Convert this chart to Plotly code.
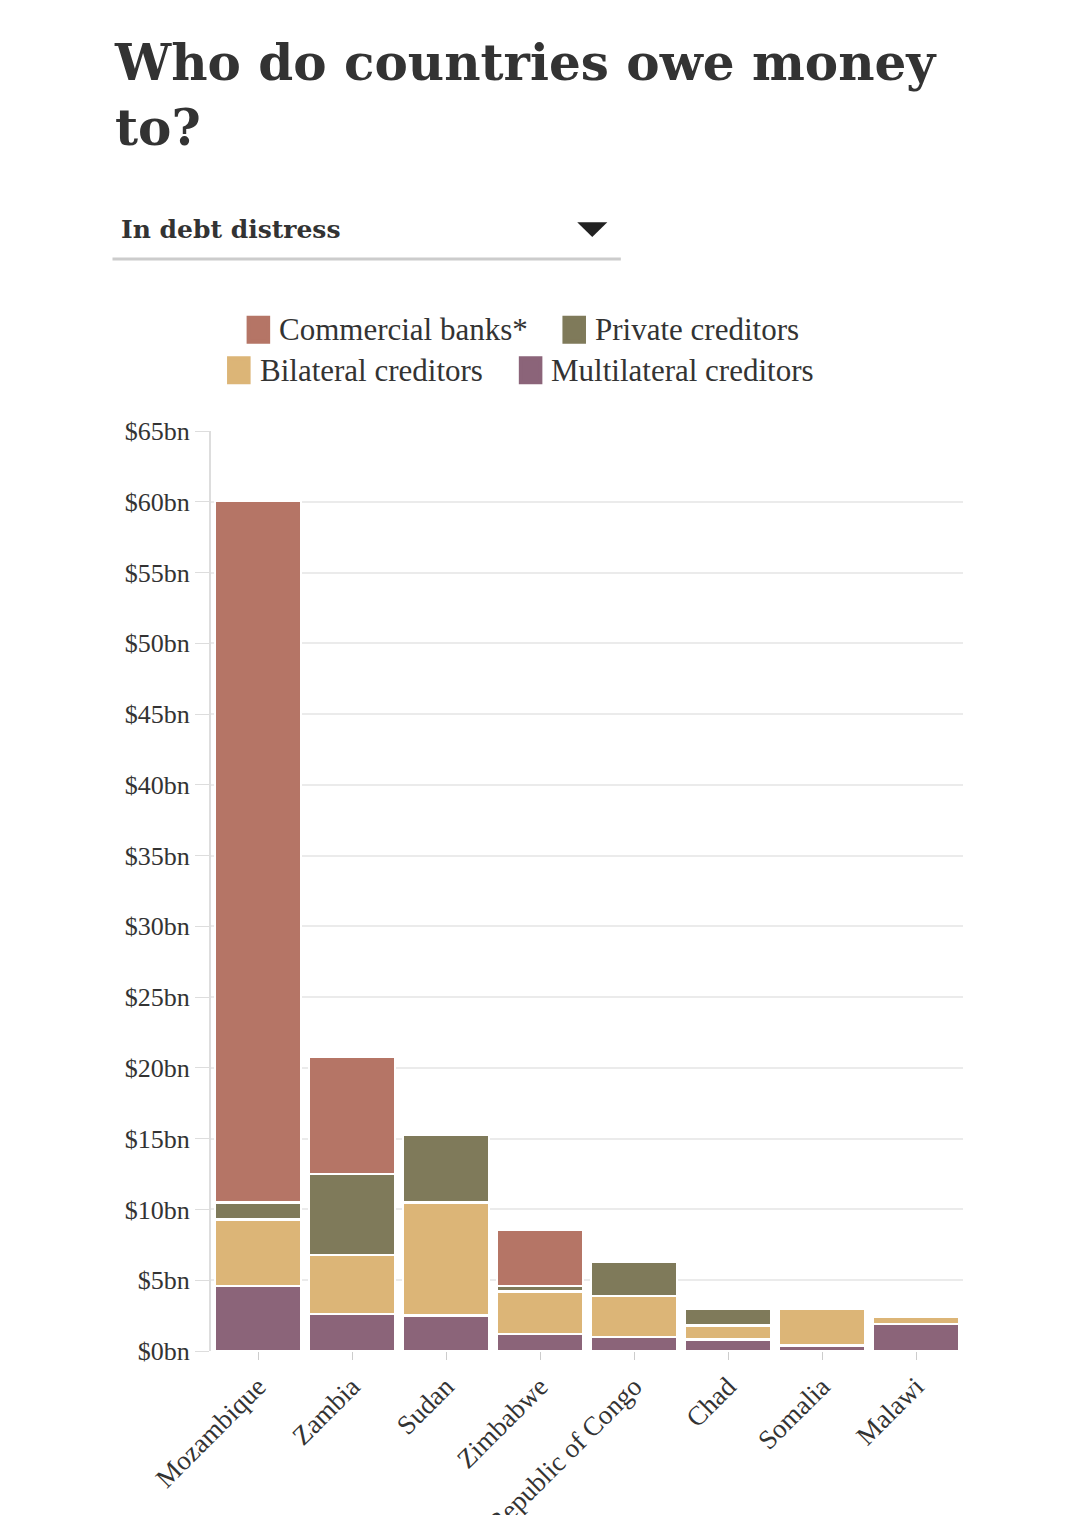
import plotly.graph_objects as go

countries = ["Mozambique", "Zambia", "Sudan", "Zimbabwe", "Republic of Congo", "Chad", "Somalia", "Malawi"]
multilateral = [4.6, 2.6, 2.5, 1.2, 1.0, 0.8, 0.4, 1.9]
bilateral = [4.7, 4.2, 8.0, 3.0, 2.9, 1.0, 2.6, 0.5]
private = [1.2, 5.7, 4.8, 0.4, 2.4, 1.2, 0.0, 0.0]
commercial = [49.6, 8.3, 0.0, 4.0, 0.0, 0.0, 0.0, 0.0]
ticks = list(range(0, 70, 5))
tick_text = ["$%dbn" % t for t in ticks]

series = [
    ("Multilateral creditors", multilateral, "#8b6479"),
    ("Bilateral creditors", bilateral, "#dcb577"),
    ("Private creditors", private, "#7f7a5a"),
    ("Commercial banks*", commercial, "#b57566"),
]

fig = go.Figure()
for name, vals, col in series:
    fig.add_trace(go.Bar(x=countries, y=vals, name=name, marker_color=col,
                         marker_line_color="white", marker_line_width=2.5))

serif = "Liberation Serif"
fig.update_layout(
    barmode="stack", bargap=0.09, width=1080, height=1515,
    plot_bgcolor="white", paper_bgcolor="white", showlegend=False,
    margin=dict(l=203, r=125, t=423, b=172, autoexpand=False),
    xaxis=dict(tickangle=-45, tickfont=dict(family=serif, size=27, color="#333"), automargin=False,
               showline=False, ticks="outside", ticklen=8, tickcolor="#ccc"),
    yaxis=dict(range=[0, 65], tickvals=ticks, ticktext=tick_text, automargin=False,
               tickfont=dict(family=serif, size=26, color="#333"),
               gridcolor="#ebebeb", gridwidth=2, showline=True, linecolor="#ddd", linewidth=2,
               ticks="outside", ticklen=14, tickcolor="#ddd", zeroline=False),
)

# title
fig.add_annotation(text="<b>Who do countries owe money<br>to?</b>", xref="paper", yref="paper",
                   x=-0.132, y=1.435, xanchor="left", yanchor="top", showarrow=False, align="left",
                   font=dict(family="DejaVu Serif", size=50, color="#333"))
# dropdown
fig.add_annotation(text="<b>In debt distress</b>", xref="paper", yref="paper", x=-0.122, y=1.219,
                   xanchor="left", yanchor="middle", showarrow=False,
                   font=dict(family="DejaVu Serif", size=25, color="#333"))
fig.add_shape(type="line", xref="paper", yref="paper", x0=-0.131, x1=0.545, y0=1.187, y1=1.187,
              line=dict(color="#ccc", width=3))
fig.add_shape(type="path", xref="paper", yref="paper",
              path="M 0.487 1.227 L 0.527 1.227 L 0.507 1.211 Z", fillcolor="#222", line_width=0)

# legend
legend_items = [
    ("Commercial banks*", "#b57566", 0.05, 1.11),
    ("Private creditors", "#7f7a5a", 0.47, 1.11),
    ("Bilateral creditors", "#dcb577", 0.024, 1.066),
    ("Multilateral creditors", "#8b6479", 0.412, 1.066),
]
for name, col, xx, yy in legend_items:
    fig.add_shape(type="rect", xref="paper", yref="paper", x0=xx, x1=xx + 0.026, y0=yy - 0.013,
                  y1=yy + 0.013, fillcolor=col, line=dict(color=col, width=4))
    fig.add_annotation(text=name, xref="paper", yref="paper", x=xx + 0.038, y=yy, xanchor="left",
                       yanchor="middle", showarrow=False,
                       font=dict(family=serif, size=31, color="#333"))

fig.write_html("out.html")
